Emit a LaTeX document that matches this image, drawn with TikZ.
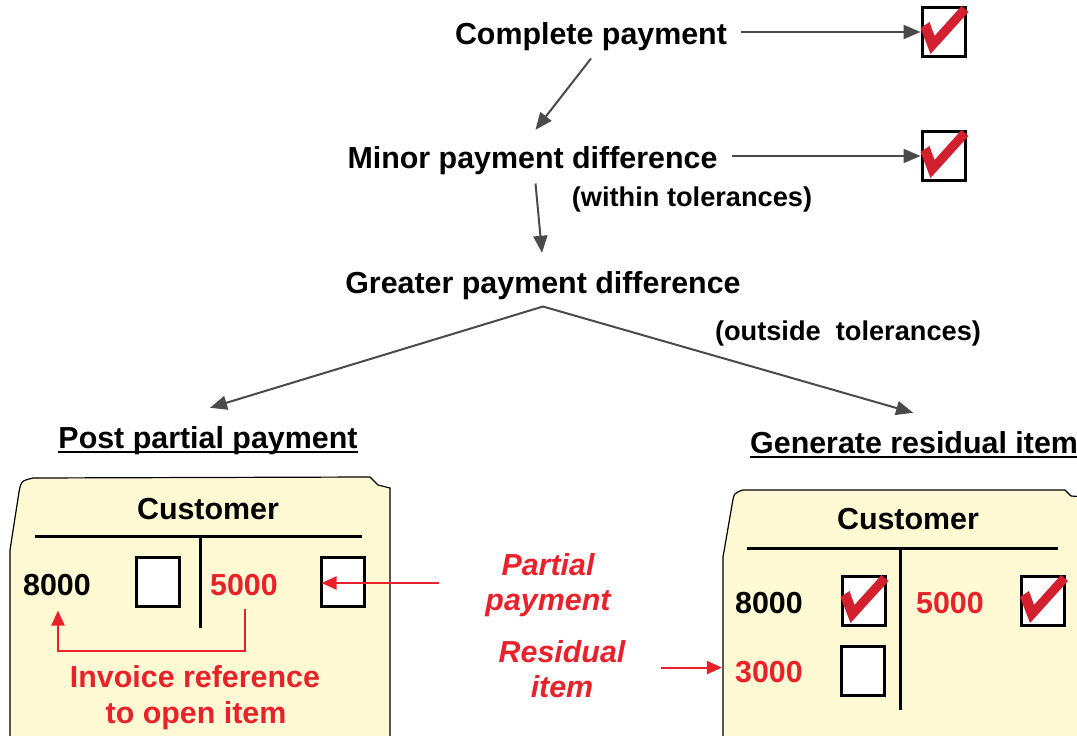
\documentclass[tikz,border=0pt]{standalone}
\usepackage{fontspec}
\setmainfont{Liberation Sans}
\usetikzlibrary{arrows.meta,calc}
\definecolor{arrgray}{HTML}{4A4A4A}
\definecolor{txtred}{HTML}{E8222B}
\definecolor{chkred}{HTML}{D2202F}
\definecolor{cardfill}{HTML}{FFF9D4}
\tikzset{
  checkmark/.pic={\fill[chkred] (0,22) -- (9,16) -- (14,30) -- (41,0) -- (48,6) -- (10,48) -- cycle;}
}
\begin{document}
\begin{tikzpicture}[x=1pt,y=-1pt,
  big/.style={font=\fontsize{30.4}{34}\selectfont\bfseries, inner sep=0pt, anchor=base},
  small/.style={font=\fontsize{27.2}{30}\selectfont\bfseries, inner sep=0pt, anchor=base},
  redtxt/.style={big, text=txtred},
  redit/.style={big, text=txtred, font=\fontsize{30.4}{34}\selectfont\bfseries\itshape},
  flow/.style={draw=arrgray, line width=2pt, -{Triangle[length=17pt,width=14pt]}},
  redarr/.style={draw=txtred, line width=2pt, -{Triangle[length=15pt,width=13pt]}},
  card/.style={fill=cardfill, draw=black, line width=1.2pt},
  tline/.style={line width=3pt},
  cbox/.style={draw=black, fill=white, line width=3pt, minimum width=43pt, minimum height=49pt, inner sep=0pt},
  uline/.style={line width=2pt},
]
\useasboundingbox (0,0) rectangle (1077,736);

% cards
\draw[card] (10,745) -- (10,550) -- (19,492) .. controls (21,481) .. (33,478) -- (370,477) -- (378,485) -- (390,488) -- (390,745);
\draw[card] (723,745) -- (723,557) -- (732,505) .. controls (734,493) .. (743,490) -- (1065,490) -- (1071,496) -- (1085,497) -- (1085,745);

% top flow
\node[big] (cp) at (591,44) {Complete payment};
\node[cbox] (ck1) at (943.5,32) {};
\pic at (ck1.north west) {checkmark};
\node[big] (mpd) at (532.5,168) {Minor payment difference};
\node[cbox] (ck2) at (943.5,156) {};
\pic at (ck2.north west) {checkmark};
\node[small] (wt) at (692,206) {(within tolerances)};
\node[big] (gpd) at (543,293) {Greater payment difference};
\node[small] (ot) at (848,340) {(outside\ \ tolerances)};
\node[big] (ppp) at (208,448) {Post partial payment};
\node[big, anchor=base west] (gri) at (750,453) {Generate residual item};
\draw[uline] ($(ppp.base west)+(0,4)$) -- ($(ppp.base east)+(0,4)$);
\draw[uline] ($(gri.base west)+(0,4)$) -- ($(gri.base east)+(0,4)$);

\draw[flow] ([xshift=14pt]cp.east |- ck1.west) -- (ck1.west);
\draw[flow] ([xshift=14pt]mpd.east |- ck2.west) -- (ck2.west);
\draw[flow] ($(cp.south)+(0,8)$) -- ($(mpd.north)+(3,-16)$);
\draw[flow] ($(mpd.south)+(3,9)$) -- ($(gpd.north)+(-1,-18)$);
\coordinate (split) at ($(gpd.south)+(0,7)$);
\draw[flow] (split) -- ($(ppp.north)+(2,-18)$);
\draw[flow] (split) -- ($(gri.north)+(-1,-18)$);

% left card content
\node[big] (lc) at (208,519) {Customer};
\draw[tline] (35,536) -- (362,536);
\draw[tline] (200,536) -- (200,628);
\node[big] (l8000) at (57,595) {8000};
\node[cbox] (lb1) at (157.5,582) {};
\node[redtxt] (l5000) at (244,595) {5000};
\node[cbox] (lb2) at (342.5,582) {};
\node[redtxt] (inv1) at (195,687) {Invoice reference};
\node[redtxt] (inv2) at (196,723) {to open item};
\draw[redarr] ($(l5000.south)+(1,13)$) -- ++(0,42) -| ($(l8000.south)+(1,15)$);

% middle labels
\node[redit] (pp1) at (548,575) {Partial};
\node[redit] (pp2) at (548,610) {payment};
\node[redit] (ri1) at (562,662) {Residual};
\node[redit] (ri2) at (562,697) {item};
\draw[redarr] ($(lb2.east)+(73,1)$) -- ($(lb2.west)+(2,1)$);

% right card content
\node[big] (rc) at (908,529) {Customer};
\draw[tline] (747,548) -- (1058,548);
\draw[tline] (900,548) -- (900,710);
\node[big] (r8000) at (769,613) {8000};
\node[cbox] (rb1) at (863.5,601) {};
\pic at (rb1.north west) {checkmark};
\node[redtxt] (r5000) at (950,613) {5000};
\node[cbox] (rb2) at (1043,601) {};
\pic at (rb2.north west) {checkmark};
\node[redtxt] (r3000) at (769,682) {3000};
\node[cbox] (rb3) at (863,670.5) {};
\draw[redarr] ($(r3000.west)+(-74,-4)$) -- ($(r3000.west)+(-13,-4)$);
\end{tikzpicture}
\end{document}
